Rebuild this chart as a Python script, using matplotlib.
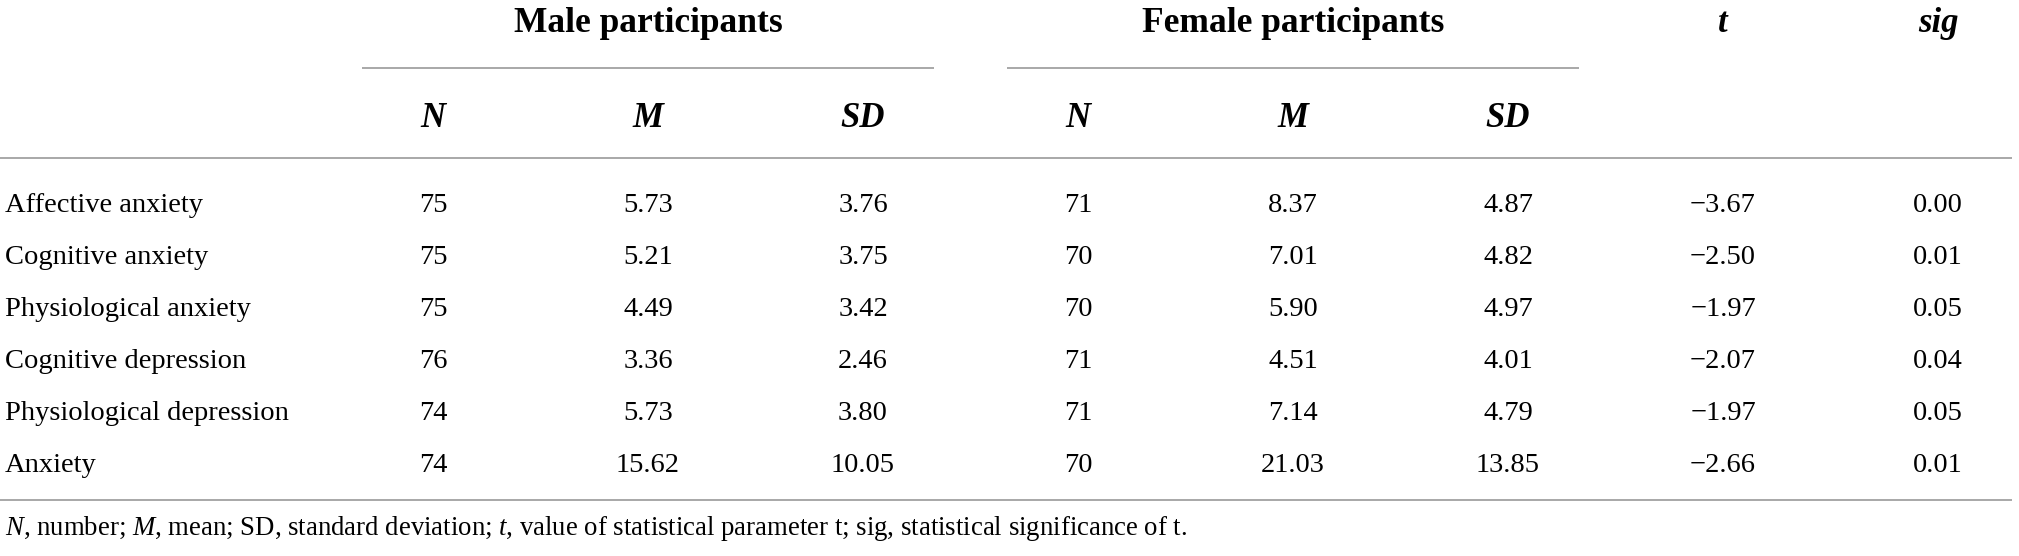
import matplotlib
matplotlib.use("Agg")
import matplotlib.pyplot as plt

plt.rcParams['font.family'] = ['Liberation Serif', 'DejaVu Serif']
plt.rcParams['mathtext.fontset'] = 'custom'
plt.rcParams['mathtext.rm'] = 'Liberation Serif'
plt.rcParams['mathtext.it'] = 'Liberation Serif:italic'

# table content
measures = ['Affective anxiety', 'Cognitive anxiety', 'Physiological anxiety',
            'Cognitive depression', 'Physiological depression', 'Anxiety']
male_n = [75, 75, 75, 76, 74, 74]
male_m = [5.73, 5.21, 4.49, 3.36, 5.73, 15.62]
male_sd = [3.76, 3.75, 3.42, 2.46, 3.80, 10.05]
female_n = [71, 70, 70, 71, 71, 70]
female_m = [8.37, 7.01, 5.90, 4.51, 7.14, 21.03]
female_sd = [4.87, 4.82, 4.97, 4.01, 4.79, 13.85]
t_vals = [-3.67, -2.50, -1.97, -2.07, -1.97, -2.66]
sig_vals = [0.00, 0.01, 0.05, 0.04, 0.05, 0.01]

groups = ['Male participants', 'Female participants']
sub_cols = ['N', 'M', 'SD']
footnote = (r'$\mathit{N}$, number; $\mathit{M}$, mean; SD, standard deviation; '
            r'$\mathit{t}$, value of statistical parameter t; sig, statistical significance of t.')

W, H = 2019, 556
fig = plt.figure(figsize=(W / 100, H / 100), dpi=100)
ax = fig.add_axes([0, 0, 1, 1])
ax.set_xlim(0, W)
ax.set_ylim(H, 0)
ax.axis('off')

col_x = [433 + 215 * i for i in range(8)]
rule_color = '#a8a8a8'
body = 20.5

# group headers with underlines
for g, name in enumerate(groups):
    cx = col_x[3 * g + 1]
    ax.text(cx, 32, name, ha='center', va='baseline', fontsize=25.5, fontweight='bold')
    ax.plot([cx - 286, cx + 286], [68, 68], color=rule_color, lw=1.4, solid_capstyle='butt')
    for k, s in enumerate(sub_cols):
        ax.text(col_x[3 * g + k], 127, s, ha='center', va='baseline', fontsize=25,
                fontweight='bold', style='italic')

ax.text(col_x[6], 32, 't', ha='center', va='baseline', fontsize=25, fontweight='bold', style='italic')
ax.text(col_x[7], 32, 'sig', ha='center', va='baseline', fontsize=25, fontweight='bold', style='italic')

ax.plot([0, 2012], [158, 158], color=rule_color, lw=1.4, solid_capstyle='butt')

columns = [male_n, male_m, male_sd, female_n, female_m, female_sd, t_vals, sig_vals]
for i, label in enumerate(measures):
    y = 212 + 52 * i
    ax.text(5, y, label, ha='left', va='baseline', fontsize=body)
    for j, col in enumerate(columns):
        v = col[i]
        if isinstance(v, int):
            s = str(v)
        else:
            s = f'{v:.2f}'.replace('-', '\u2212')
        ax.text(col_x[j], y, s, ha='center', va='baseline', fontsize=body)

ax.plot([0, 2012], [500, 500], color=rule_color, lw=1.4, solid_capstyle='butt')
ax.text(5, 535, footnote, ha='left', va='baseline', fontsize=19.3)

fig.savefig('out.png', dpi=100)
